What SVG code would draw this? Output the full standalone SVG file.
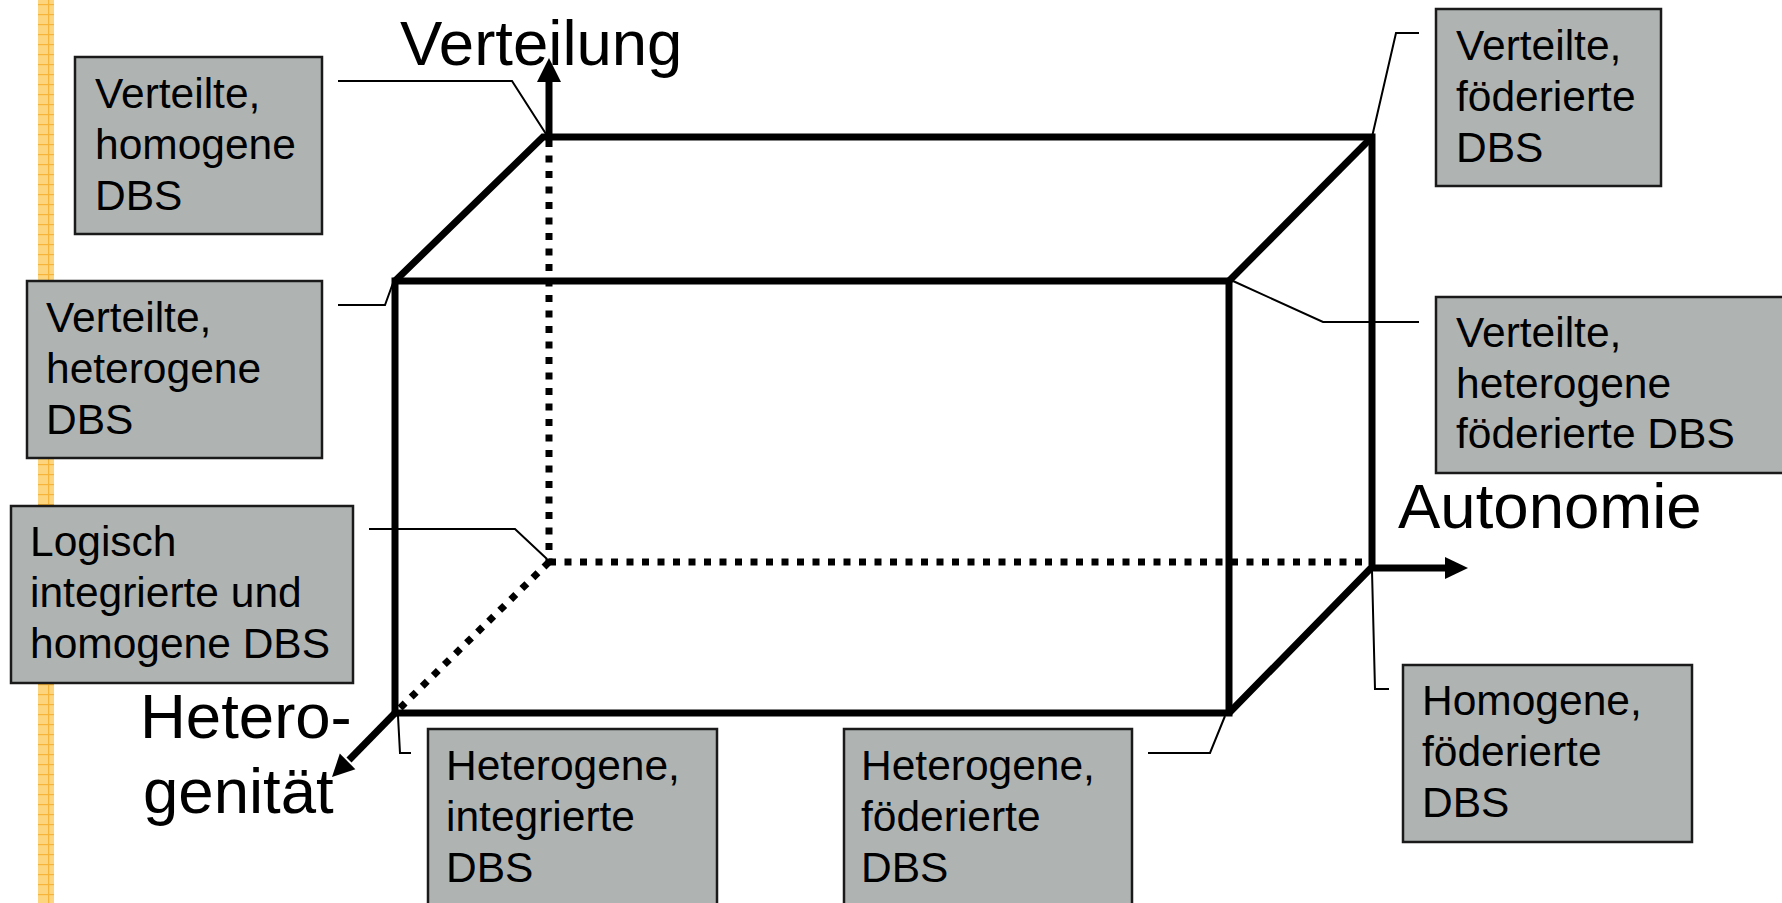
<svg xmlns="http://www.w3.org/2000/svg" width="1782" height="903" viewBox="0 0 1782 903">
  <defs>
    <style>
      .box { fill: #AFB4B3; stroke: #1a1a1a; stroke-width: 2.5; }
      .lbl { font-family: "Liberation Sans", Arial, sans-serif; font-size: 42.5px; fill: #000; }
      .axis { font-family: "Liberation Sans", Arial, sans-serif; font-size: 63.5px; fill: #000; }
      .edge { fill: none; stroke: #000; stroke-width: 7; stroke-linejoin: miter; }
      .hidden { fill: none; stroke: #000; stroke-width: 7; stroke-dasharray: 7 8.5; }
      .leader { fill: none; stroke: #000; stroke-width: 2; }
      .head { fill: #000; }
    </style>
    <pattern id="grid" x="38" y="0" width="16" height="10" patternUnits="userSpaceOnUse">
      <rect width="16" height="10" fill="#FDD57E"/>
      <rect y="4" width="16" height="1.2" fill="#F7B43A"/>
      <rect x="10" width="1.2" height="10" fill="#F7B43A"/>
    </pattern>
  </defs>

  <rect width="1782" height="903" fill="#fff"/>

  <!-- decorative margin stripe -->
  <rect x="38" y="0" width="16" height="903" fill="url(#grid)"/>

  <!-- cube with its three axes -->
  <g id="cube">
    <!-- hidden edges -->
    <line class="hidden" x1="549" y1="140" x2="549" y2="562"/>
    <line class="hidden" x1="549" y1="562" x2="1372" y2="562"/>
    <line class="hidden" x1="549" y1="562" x2="398" y2="710"/>
    <!-- visible edges -->
    <rect class="edge" x="395" y="281" width="834" height="432"/>
    <polyline class="edge" points="395,281 543,137 1372,137 1372,567 1229,713"/>
    <line class="edge" x1="1229" y1="281" x2="1372" y2="137"/>
    <!-- axes -->
    <line class="edge" x1="549" y1="137" x2="549" y2="80"/>
    <polygon class="head" points="549,58 537,82 561,82"/>
    <line class="edge" x1="1372" y1="568" x2="1447" y2="568"/>
    <polygon class="head" points="1468,568 1445,557 1445,579"/>
    <line class="edge" x1="395" y1="713" x2="349" y2="760"/>
    <polygon class="head" points="332,777 339.8,753.6 355.4,769.2"/>
    <text class="axis" x="400" y="65">Verteilung</text>
    <text class="axis" x="1398" y="528">Autonomie</text>
    <text class="axis" x="140" y="738">Hetero-</text>
    <text class="axis" x="143" y="813">genität</text>
  </g>

  <!-- leader lines from the labels to the cube corners -->
  <g id="connectors">
    <polyline class="leader" points="338,81 512,81 546,134"/>
    <polyline class="leader" points="338,305 385,305 393,283"/>
    <polyline class="leader" points="369,529 515,529 547,559"/>
    <polyline class="leader" points="398,716 400,753 411,753"/>
    <polyline class="leader" points="1148,753 1210,753 1225,716"/>
    <polyline class="leader" points="1372,571 1375,689 1389,689"/>
    <polyline class="leader" points="1372,137 1396,33 1419,33"/>
    <polyline class="leader" points="1233,281 1323,322 1419,322"/>
  </g>

  <g id="verteilt-homogen">
    <rect class="box" x="75" y="57" width="247" height="177"/>
    <text class="lbl" x="95" y="108">Verteilte,</text>
    <text class="lbl" x="95" y="159">homogene</text>
    <text class="lbl" x="95" y="210">DBS</text>
  </g>

  <g id="verteilt-heterogen">
    <rect class="box" x="27" y="281" width="295" height="177"/>
    <text class="lbl" x="46" y="332">Verteilte,</text>
    <text class="lbl" x="46" y="383">heterogene</text>
    <text class="lbl" x="46" y="434">DBS</text>
  </g>

  <g id="logisch-integriert">
    <rect class="box" x="11" y="506" width="342" height="177"/>
    <text class="lbl" x="30" y="556">Logisch</text>
    <text class="lbl" x="30" y="607">integrierte und</text>
    <text class="lbl" x="30" y="658">homogene DBS</text>
  </g>

  <g id="heterogen-integriert">
    <rect class="box" x="428" y="729" width="289" height="190"/>
    <text class="lbl" x="446" y="780">Heterogene,</text>
    <text class="lbl" x="446" y="831">integrierte</text>
    <text class="lbl" x="446" y="882">DBS</text>
  </g>

  <g id="heterogen-foederiert">
    <rect class="box" x="844" y="729" width="288" height="190"/>
    <text class="lbl" x="861" y="780">Heterogene,</text>
    <text class="lbl" x="861" y="831">föderierte</text>
    <text class="lbl" x="861" y="882">DBS</text>
  </g>

  <g id="homogen-foederiert">
    <rect class="box" x="1403" y="665" width="289" height="177"/>
    <text class="lbl" x="1422" y="715">Homogene,</text>
    <text class="lbl" x="1422" y="766">föderierte</text>
    <text class="lbl" x="1422" y="817">DBS</text>
  </g>

  <g id="verteilt-foederiert">
    <rect class="box" x="1436" y="9" width="225" height="177"/>
    <text class="lbl" x="1456" y="60">Verteilte,</text>
    <text class="lbl" x="1456" y="111">föderierte</text>
    <text class="lbl" x="1456" y="162">DBS</text>
  </g>

  <g id="verteilt-heterogen-foederiert">
    <rect class="box" x="1436" y="297" width="360" height="176"/>
    <text class="lbl" x="1456" y="347">Verteilte,</text>
    <text class="lbl" x="1456" y="398">heterogene</text>
    <text class="lbl" x="1456" y="448">föderierte DBS</text>
  </g>
</svg>
